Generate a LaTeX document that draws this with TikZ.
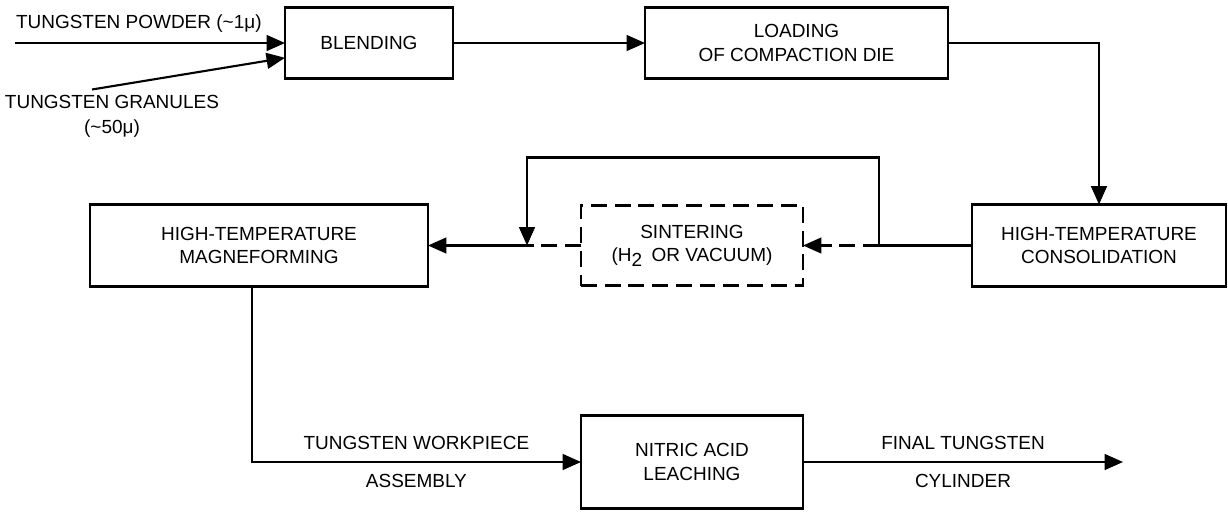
\documentclass[tikz,border=0pt]{standalone}
\usepackage{fontspec}
\setmainfont{Liberation Sans}
\usepackage{tikz}
\usetikzlibrary{positioning, arrows.meta}
\tikzset{
	stage/.append style={
		draw,
		align = center,
		line width=1.2pt,
		outer sep=0mm,
		font={\fontsize{10.8}{13.5}\selectfont},
	},
	optional/.append style={
		dash pattern=on 9pt off 4.5pt,
	},
	flowlabel/.append style={
		align = center,
		inner sep=0mm,
		font={\fontsize{10.8}{14}\selectfont},
	},
}

\begin{document}
\begin{tikzpicture}[line width=1.2pt, >={Triangle[length=10.5pt, width=9pt]}]
	\useasboundingbox (0,0) rectangle (24.56,-10.24);
	
	\node (blending)[stage, minimum width=3.36cm, minimum height=1.42cm] at (7.38,-0.86) {BLENDING};
	\node (loading)[stage, minimum width=6.06cm, minimum height=1.42cm, right=3.84cm of blending] {LOADING\\OF COMPACTION DIE};
	\node (consolidation)[stage, minimum width=5.08cm, minimum height=1.64cm, below=2.52cm of loading, xshift=6.05cm] {HIGH-TEMPERATURE\\CONSOLIDATION};
	\node (sintering)[stage, optional, minimum width=4.44cm, minimum height=1.6cm, left=3.38cm of consolidation] {SINTERING\\(H\raisebox{-0.45ex}{2}\enspace OR VACUUM)};
	\node (magneforming)[stage, minimum width=6.76cm, minimum height=1.64cm, left=3.06cm of sintering] {HIGH-TEMPERATURE\\MAGNEFORMING};
	\node (leaching)[stage, minimum width=4.44cm, minimum height=1.86cm, below=2.6cm of sintering] {NITRIC ACID\\LEACHING};
	
	\coordinate[left=5.4cm of blending.west] (powderin);
	\coordinate[below left=0.93cm and 3.86cm of blending.west] (granin);
	\coordinate[left=1.86cm of consolidation.west] (split);
	\coordinate[left=1.08cm of sintering.west] (merge);
	\coordinate[right=6.4cm of leaching.east] (product);
	
	\node (powder)[flowlabel, above right=0.2cm and 0cm of powderin] {TUNGSTEN POWDER (\textasciitilde1μ)};
	\node (granules)[flowlabel, below=0.1cm of granin, xshift=0.4cm] {TUNGSTEN GRANULES\\(\textasciitilde50μ)};
	
	\draw[->](powderin) to (blending.west);
	\draw[->](granin) to (blending.190);
	\draw[->](blending) to (loading);
	\draw[->](loading.east) -| (consolidation.north);
	
	% loop round the optional sintering step
	\draw[->](consolidation.west) -- (split) -- ++(0,1.76) -| (merge);
	\draw[->, optional](split) to (sintering.east);
	\draw[optional](sintering.west) to (merge);
	\draw[->](merge) to (magneforming.east);
	
	\draw[->](magneforming.260) |- node(workpiece)[flowlabel, pos=0.75, above=0.23cm]{TUNGSTEN WORKPIECE} node(assembly)[flowlabel, pos=0.75, below=0.23cm]{ASSEMBLY} (leaching.west);
	\draw[->](leaching.east) to node(final)[flowlabel, above=0.23cm]{FINAL TUNGSTEN} node(cylinder)[flowlabel, below=0.23cm]{CYLINDER} (product);
	
\end{tikzpicture}
\end{document}
